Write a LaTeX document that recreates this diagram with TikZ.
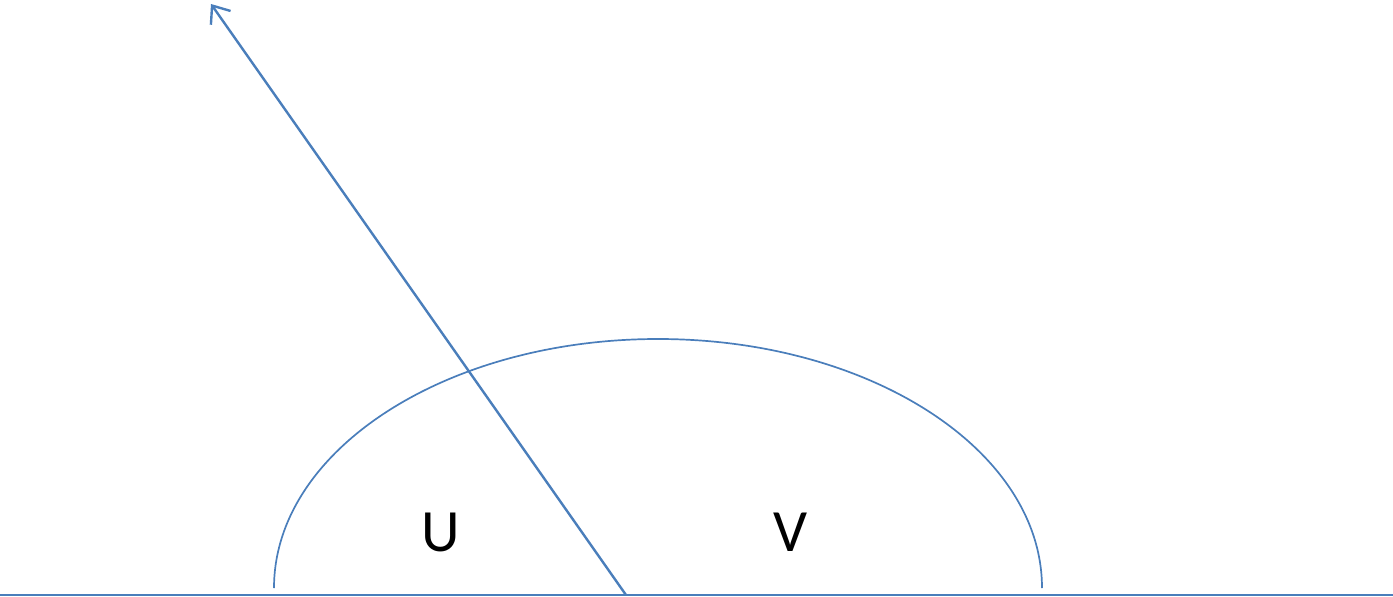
\documentclass[tikz,border=0pt]{standalone}
\usepackage{fontspec}
\setmainfont{Carlito}
\usetikzlibrary{arrows.meta}
\definecolor{lineblue}{HTML}{4A7EBB}
\begin{document}
\begin{tikzpicture}[x=1pt,y=-1pt,
  baseline/.style={draw=lineblue,line width=2.2pt},
  curve/.style={draw=lineblue,line width=1.7pt},
  vec/.style={draw=lineblue,line width=2.4pt,-{Straight Barb[length=15pt,width=24pt,line width=2.4pt]}},
  lbl/.style={font=\fontsize{60}{62}\selectfont,inner sep=0pt,text=black}]
\useasboundingbox (0,0) rectangle (1393,597);
\coordinate (L) at (0,595);
\coordinate (R) at (1393,595);
\coordinate (O) at (626,595);
\coordinate (T) at (211,4);
\draw[baseline] (L) -- (R);
\draw[curve] (274,588) arc[start angle=180,end angle=360,x radius=384,y radius=249];
\draw[vec] (O) -- (T);
\node[lbl] (u) at (441,532) {U};
\node[lbl] (v) at (791,532) {V};
\end{tikzpicture}
\end{document}
